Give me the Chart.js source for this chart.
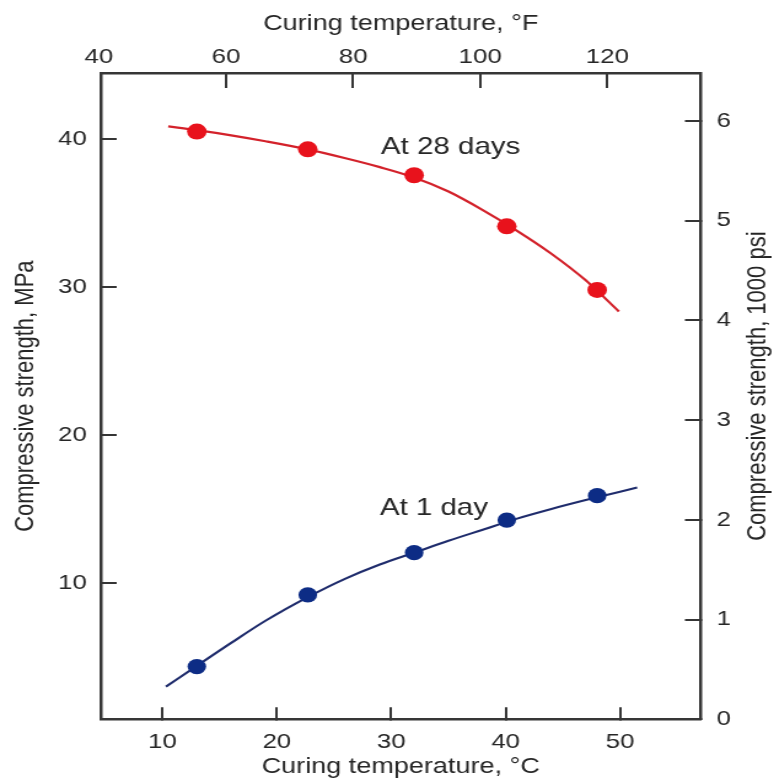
<!DOCTYPE html>
<html>
<head>
<meta charset="utf-8">
<script src="https://cdn.jsdelivr.net/npm/chart.js@4.4.1/dist/chart.umd.min.js"></script>
<style>
  html, body { margin: 0; padding: 0; background: #fff; overflow: hidden; }
  /* the source figure is stretched sideways, so the whole chart is too */
  #wrap { width: 630px; height: 780px; transform: scaleX(1.2286); transform-origin: 0 0; }
</style>
</head>
<body>
<div id="wrap"><canvas id="chart" width="630" height="780"></canvas></div>
<script>
// test points, curing temperature in deg C
const testTemps = [13, 22.7, 32, 40.1, 48];
const strength28d = [40.5, 39.3, 37.55, 34.1, 29.8];
const strength1d = [4.35, 9.2, 12.05, 14.25, 15.9];

// fitted curves
const curve28dTemps = [10.5, 13, 16, 19, 22.7, 26, 29, 32, 35, 38, 41, 44, 47, 49.9];
const curve28dValues = [40.85, 40.6, 40.25, 39.85, 39.3, 38.7, 38.1, 37.4, 36.45, 35.2, 33.8, 32.25, 30.45, 28.35];
const curve1dTemps = [10.3, 13, 16, 19, 22.7, 26, 29, 32, 35, 38, 41, 44, 47, 51.5];
const curve1dValues = [3.0, 4.4, 5.95, 7.45, 9.05, 10.3, 11.25, 12.05, 12.85, 13.6, 14.35, 15.0, 15.6, 16.45];

const celsiusTicks = [10, 20, 30, 40, 50];
const fahrenheitTicks = [40, 60, 80, 100, 120];
const mpaTicks = [10, 20, 30, 40];
const psiTicks = [0, 1, 2, 3, 4, 5, 6];

const axisColor = '#363636';
const textColor = '#262626';
const fontFamily = '"Liberation Sans", Arial, Helvetica, sans-serif';
const tickFont = { family: fontFamily, size: 21 };
const titleFont = { family: fontFamily, size: 22 };

var pts = function(xs, ys) {
    return xs.map((x, i) => ({ x: x, y: ys[i] }));
};
var setTicks = function(list) {
    return function(scale) { scale.ticks = list.map(v => ({ value: v })); };
};

const cMin = 4.6, cMax = 57.05;

const textPlugin = {
    id: 'figureText',
    afterDraw(chart) {
        const ctx = chart.ctx;
        const xs = chart.scales.x, ys = chart.scales.y;
        ctx.save();
        ctx.fillStyle = textColor;
        ctx.font = '24px ' + fontFamily;
        ctx.textBaseline = 'alphabetic';
        ctx.textAlign = 'left';
        ctx.fillText('At 28 days', xs.getPixelForValue(29.1), ys.getPixelForValue(39.0));
        ctx.fillText('At 1 day', xs.getPixelForValue(29.0), ys.getPixelForValue(14.6));
        // right axis title reads upward like the left one
        const area = chart.chartArea;
        ctx.translate(617, (area.top + area.bottom) / 2 - 10);
        ctx.rotate(-Math.PI / 2);
        ctx.textAlign = 'center';
        ctx.textBaseline = 'middle';
        ctx.font = '22px ' + fontFamily;
        ctx.fillText('Compressive strength, 1000 psi', 0, 0);
        ctx.restore();
    }
};

new Chart(document.getElementById('chart'), {
    type: 'scatter',
    data: {
        datasets: [
            { label: '28 days', data: pts(testTemps, strength28d), backgroundColor: '#e8121c',
              pointRadius: 8, borderWidth: 0, pointHoverRadius: 8 },
            { label: '1 day', data: pts(testTemps, strength1d), backgroundColor: '#0d2c85',
              pointRadius: 7.6, borderWidth: 0, pointHoverRadius: 7.6 },
            { label: '28 days fit', data: pts(curve28dTemps, curve28dValues), showLine: true,
              borderColor: '#d3222b', borderWidth: 2.2, pointRadius: 0, cubicInterpolationMode: 'monotone' },
            { label: '1 day fit', data: pts(curve1dTemps, curve1dValues), showLine: true,
              borderColor: '#1f2c6c', borderWidth: 2.1, pointRadius: 0, cubicInterpolationMode: 'monotone' }
        ]
    },
    options: {
        responsive: false,
        animation: false,
        devicePixelRatio: 1,
        layout: { padding: 0 },
        plugins: { legend: { display: false }, tooltip: { enabled: false } },
        scales: {
            x: {
                type: 'linear', position: 'bottom', min: cMin, max: cMax,
                afterBuildTicks: setTicks(celsiusTicks),
                afterFit: s => { s.height = 60.7; },
                border: { color: axisColor, width: 2.6 },
                grid: { drawOnChartArea: false, tickLength: -12, color: axisColor, lineWidth: 2 },
                ticks: { padding: 22, font: tickFont, color: textColor },
                title: { display: true, text: 'Curing temperature, °C', font: titleFont, color: textColor,
                         padding: { top: 0, bottom: 0 } }
            },
            x2: {
                type: 'linear', position: 'top', min: cMin * 1.8 + 32, max: cMax * 1.8 + 32,
                afterBuildTicks: setTicks(fahrenheitTicks),
                afterFit: s => { s.height = 73; },
                border: { color: axisColor, width: 2.6 },
                grid: { drawOnChartArea: false, tickLength: -15, lineWidth: 2,
                        color: c => (c.tick && c.tick.value === 40) ? 'rgba(0,0,0,0)' : axisColor },
                ticks: { padding: 18.4, font: tickFont, color: textColor },
                title: { display: true, text: 'Curing temperature, °F', font: titleFont, color: textColor,
                         padding: { top: 11, bottom: 0 } }
            },
            y: {
                type: 'linear', position: 'left', min: 0.79, max: 44.46,
                afterBuildTicks: setTicks(mpaTicks),
                afterFit: s => { s.width = 82; },
                border: { color: axisColor, width: 2.5 },
                grid: { drawOnChartArea: false, tickLength: -13, color: axisColor, lineWidth: 2 },
                ticks: { padding: 24.4, font: tickFont, color: textColor },
                title: { display: true, text: 'Compressive strength, MPa', font: titleFont, color: textColor,
                         padding: { top: 8.2, bottom: 0 } }
            },
            y2: {
                type: 'linear', position: 'right', min: 0, max: 6.48,
                afterBuildTicks: setTicks(psiTicks),
                afterFit: s => { s.width = 59.7; },
                border: { color: axisColor, width: 2.5 },
                grid: { drawOnChartArea: false, tickLength: -12.8, color: axisColor, lineWidth: 2 },
                ticks: { padding: 25.8, font: tickFont, color: textColor },
                title: { display: false }
            }
        }
    },
    plugins: [textPlugin]
});
</script>
</body>
</html>
